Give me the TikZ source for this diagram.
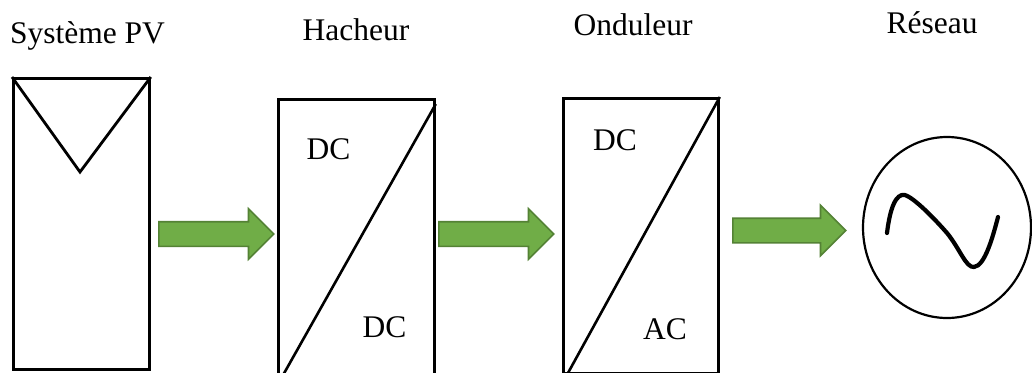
\documentclass[tikz,border=0pt]{standalone}
\usepackage{fontspec}
\setmainfont{Liberation Serif}
\usetikzlibrary{shapes.arrows,shapes.geometric}
\definecolor{flowgreen}{HTML}{70AD47}
\definecolor{flowedge}{HTML}{548235}

\begin{document}
\begin{tikzpicture}[x=1pt, y=-1pt,
            block/.style={draw, rectangle, line width=2.8pt, inner sep=0pt,
                    anchor=north west},
            flow/.style={single arrow, draw=flowedge, fill=flowgreen,
                    line width=1.6pt, inner xsep=0pt, inner ysep=11.5pt,
                    single arrow head extend=13pt, anchor=west},
            split/.style={line width=2.6pt},
            lab/.style={font=\fontsize{31.5}{36}\selectfont, anchor=base}
        ]
        \clip (0,0) rectangle (1032,372);
        \fill[white] (0,0) rectangle (1032,372);

        % blocks
        \node[block, minimum width=136pt, minimum height=291pt] (pv) at (12,77) {};
        \node[block, minimum width=156pt, minimum height=285pt] (hach) at (277,98) {};
        \node[block, minimum width=155pt, minimum height=275pt] (ond) at (562,97) {};
        \node[draw, ellipse, line width=2.2pt, inner sep=0pt,
            minimum width=168pt, minimum height=181pt] (grid) at (947,227.5) {};

        \coordinate (apex) at (80,172);
        \draw[line width=2.8pt] (pv.north west) -- (apex) -- (pv.north east);
        \draw[split] ([yshift=-6pt]hach.north east) -- (hach.south west);
        \draw[split] (ond.north east) -- ([xshift=5pt]ond.south west);

        % sine
        \draw[line width=4.2pt, line cap=round, line join=round]
            (887,233) .. controls (890,208) and (896,193) .. (905,195)
            .. controls (914,198) and (933,217) .. (947,233)
            .. controls (960,249) and (966,268) .. (974,267)
            .. controls (985,266) and (993,236) .. (998,217);

        % flow arrows
        \node[flow, minimum height=115pt] (f1) at (158,234) {};
        \node[flow, minimum height=115pt] (f2) at (438,234) {};
        \node[flow, minimum height=113pt] (f3) at (732,230.5) {};

        % titles
        \node[lab] (tpv) at (87.5,43) {Système PV};
        \node[lab] (thach) at (356,40) {Hacheur};
        \node[lab] (tond) at (633,35) {Onduleur};
        \node[lab] (tgrid) at (932,33) {Réseau};

        \node[lab] (hin) at (328.5,159) {DC};
        \node[lab] (hout) at (384.5,337) {DC};
        \node[lab] (oin) at (615,150) {DC};
        \node[lab] (oout) at (665,339) {AC};
    \end{tikzpicture}
\end{document}
